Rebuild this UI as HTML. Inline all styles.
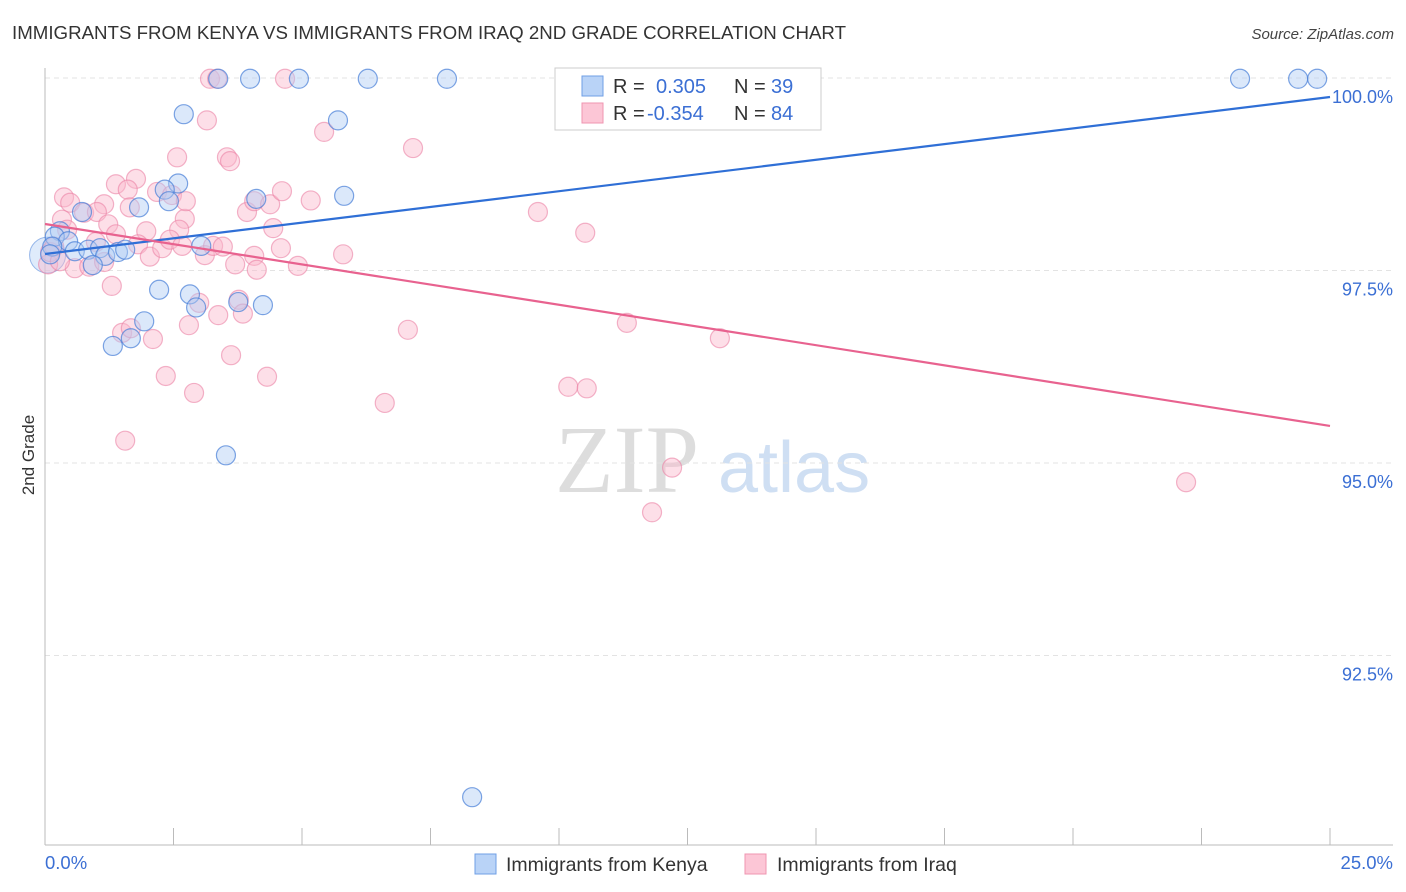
<!DOCTYPE html>
<html><head><meta charset="utf-8"><style>
body{margin:0;background:#fff;font-family:"Liberation Sans",sans-serif}
svg{display:block}
</style></head><body>
<svg id="chart" width="1406" height="892">
<text x="12" y="39" font-size="18.5" fill="#333" textLength="834" lengthAdjust="spacingAndGlyphs">IMMIGRANTS FROM KENYA VS IMMIGRANTS FROM IRAQ 2ND GRADE CORRELATION CHART</text>
<text x="1394" y="39" font-size="15" fill="#444" font-style="italic" text-anchor="end">Source: ZipAtlas.com</text>
<text x="555" y="492" font-size="96" fill="#ddd" font-family="Liberation Serif">ZIP</text>
<text x="718" y="492" font-size="72" fill="#cfdff3">atlas</text>
<g id="grid"></g>
<line x1="45" y1="68" x2="45" y2="845" stroke="#bbb"/>
<line x1="45" y1="845" x2="1393" y2="845" stroke="#bbb"/>
<g id="xticks"></g>
<g id="pts"></g>
<g id="lines"></g>
<text transform="translate(34,455) rotate(-90)" font-size="17" fill="#333" text-anchor="middle">2nd Grade</text>
<text x="45" y="869" font-size="18.5" fill="#3b6fd4">0.0%</text>
<text x="1393" y="869" font-size="18.5" fill="#3b6fd4" text-anchor="end">25.0%</text>
<g>
<rect x="555" y="68" width="266" height="62" fill="#fff" stroke="#ccc"/>
<rect x="582" y="76" width="21" height="20" fill="#b9d3f7" stroke="#6f9fe6"/>
<rect x="582" y="103" width="21" height="20" fill="#fcc6d6" stroke="#ef95b0"/>
<text x="613" y="93" font-size="20" fill="#333">R =</text><text x="656" y="93" font-size="20" fill="#3b6fd4">0.305</text>
<text x="734" y="93" font-size="20" fill="#333">N =</text><text x="771" y="93" font-size="20" fill="#3b6fd4">39</text>
<text x="613" y="120" font-size="20" fill="#333">R =</text><text x="647" y="120" font-size="20" fill="#3b6fd4">-0.354</text>
<text x="734" y="120" font-size="20" fill="#333">N =</text><text x="771" y="120" font-size="20" fill="#3b6fd4">84</text>
</g>
<g>
<rect x="475" y="854" width="21" height="20" fill="#b9d3f7" stroke="#6f9fe6"/>
<text x="506" y="871" font-size="19.5" fill="#333">Immigrants from Kenya</text>
<rect x="745" y="854" width="21" height="20" fill="#fcc6d6" stroke="#ef95b0"/>
<text x="777" y="871" font-size="19.5" fill="#333">Immigrants from Iraq</text>
</g>
</svg>
<script>
const yTicks=[100,97.5,95,92.5];
const yTickLabels=["100.0%","97.5%","95.0%","92.5%"];
const kenyaX=[3.37,3.99,4.94,6.28,7.82,23.25,24.38,24.75,2.70,5.70,2.59,2.33,2.41,1.83,4.11,5.82,0.72,0.29,0.19,0.45,0.14,0.10,0.58,0.84,1.07,1.17,1.42,1.56,0.93,3.04,2.22,2.82,2.94,3.76,4.24,1.93,1.67,1.32,3.52,8.31];
const kenyaY=[99.99,99.99,99.99,99.99,99.99,99.99,99.99,99.99,99.53,99.45,98.63,98.55,98.40,98.32,98.43,98.47,98.26,98.01,97.94,97.88,97.81,97.71,97.75,97.77,97.79,97.69,97.74,97.77,97.57,97.82,97.25,97.19,97.02,97.09,97.05,96.84,96.62,96.52,95.10,90.66];
const iraqX=[3.21,3.35,4.67,14.11,3.15,5.43,2.57,3.54,3.60,7.16,0.37,0.49,1.38,1.77,1.61,2.18,2.47,1.15,0.76,1.01,0.33,1.23,2.72,3.93,4.07,4.38,4.61,5.17,9.59,10.51,1.97,2.61,0.43,0.99,1.38,1.81,2.04,2.28,2.43,2.67,3.11,3.27,3.46,4.07,4.59,5.80,4.44,0.58,0.86,1.15,4.12,4.92,1.30,3.00,3.77,3.37,3.85,2.80,1.50,1.67,2.10,7.06,11.32,13.13,3.62,2.35,4.32,2.90,10.18,10.54,6.61,1.56,12.20,11.81,22.2,0.06,0.10,0.18,2.74,1.65,0.29,3.70];
const iraqY=[99.99,99.99,99.99,99.99,99.45,99.30,98.97,98.97,98.92,99.09,98.45,98.38,98.62,98.69,98.55,98.52,98.48,98.36,98.25,98.26,98.16,98.10,98.17,98.26,98.40,98.36,98.53,98.41,98.26,97.99,98.01,98.03,98.03,97.87,97.97,97.84,97.68,97.79,97.90,97.82,97.70,97.82,97.81,97.69,97.79,97.71,98.05,97.53,97.55,97.61,97.51,97.56,97.30,97.08,97.12,96.92,96.94,96.79,96.69,96.75,96.61,96.73,96.82,96.62,96.40,96.13,96.12,95.91,95.99,95.97,95.78,95.29,94.94,94.36,94.75,97.58,97.74,97.81,98.40,98.32,97.62,97.58];
const kenyaTrend=[97.714,99.753];
const iraqTrend=[98.104,95.481];
const xDomain=[0,25];
const NS="http://www.w3.org/2000/svg";
function sx(v){return 45+(v-xDomain[0])/(xDomain[1]-xDomain[0])*1285;}
function sy(v){return 78+(100-v)*77;}
function mk(t,a,p){const e=document.createElementNS(NS,t);for(const k in a)e.setAttribute(k,a[k]);p.appendChild(e);return e;}
const grid=document.getElementById('grid');
yTicks.forEach((t,i)=>{
 const l=mk('line',{x1:45,x2:1393,y1:sy(t),y2:sy(t),stroke:'#e3e3e3','stroke-dasharray':'5,4'},grid);
 
 
 const tx=mk('text',{x:1393,y:sy(t)+25,'font-size':18,fill:'#3b6fd4','text-anchor':'end'},grid);
 tx.textContent=yTickLabels[i];
 
 
});
const xt=document.getElementById('xticks');
for(let i=1;i<=10;i++){
 const l=mk('line',{x1:sx(i*2.5),x2:sx(i*2.5),y1:828,y2:845,stroke:'#bbb'},xt);
 
 
}
const pts=document.getElementById('pts');
const big=mk('circle',{cx:sx(0.05),cy:sy(97.7),r:18,fill:'rgba(185,211,247,0.45)',stroke:'rgba(90,140,220,0.6)'},pts);


iraqX.forEach((x,i)=>{
 const c=mk('circle',{cx:sx(x),cy:sy(iraqY[i]),r:9.5,fill:'rgba(250,185,205,0.45)',stroke:'rgba(235,130,165,0.6)','stroke-width':1.2},pts);
 
 
});
kenyaX.forEach((x,i)=>{
 const c=mk('circle',{cx:sx(x),cy:sy(kenyaY[i]),r:9.5,fill:'rgba(175,205,245,0.45)',stroke:'rgba(70,125,215,0.7)','stroke-width':1.2},pts);
 
 
});
const ln=document.getElementById('lines');
const lb=mk('line',{x1:sx(0),y1:sy(kenyaTrend[0]),x2:sx(25),y2:sy(kenyaTrend[1]),stroke:'#2f6fd6','stroke-width':2.2},ln);


const lp=mk('line',{x1:sx(0),y1:sy(iraqTrend[0]),x2:sx(25),y2:sy(iraqTrend[1]),stroke:'#e8628f','stroke-width':2.2},ln);


</script>
</body></html>
